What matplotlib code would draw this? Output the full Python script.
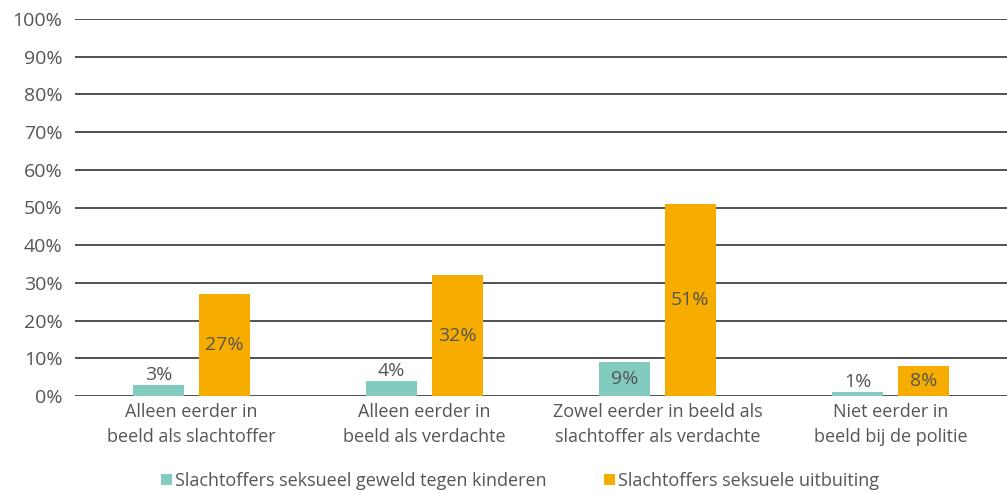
import matplotlib
matplotlib.use("Agg")
from matplotlib import pyplot as plt
import numpy as np

categories = ["Alleen eerder in\nbeeld als slachtoffer",
              "Alleen eerder in\nbeeld als verdachte",
              "Zowel eerder in beeld als\nslachtoffer als verdachte",
              "Niet eerder in\nbeeld bij de politie"]
kinderen = [3, 4, 9, 1]
uitbuiting = [27, 32, 51, 8]
series_names = ["Slachtoffers seksueel geweld tegen kinderen",
                "Slachtoffers seksuele uitbuiting"]
yticks = list(range(0, 101, 10))

plt.rcParams['font.family'] = ['Open Sans', 'DejaVu Sans']
grey = '#555555'

fig = plt.figure(figsize=(10.07, 4.93), dpi=100)
ax = fig.add_axes([75/1007, 1 - 396/493, 932/1007, 377/493])

x = np.arange(len(categories))
w = 0.223
off = 0.1416
b1 = ax.bar(x - off, kinderen, w, color='#84cbbf', label=series_names[0], zorder=3)
b2 = ax.bar(x + off, uitbuiting, w, color='#f7ad00', label=series_names[1], zorder=3)

for bars, vals in [(b1, kinderen), (b2, uitbuiting)]:
    for rect, v in zip(bars, vals):
        cx = rect.get_x() + rect.get_width() / 2
        if v >= 5:
            ax.text(cx, v / 2, f"{v}%", ha='center', va='center', fontsize=14, color=grey, zorder=4)
        else:
            ax.text(cx, v + 0.3, f"{v}%", ha='center', va='bottom', fontsize=14, color=grey, zorder=4)

ax.set_xlim(-0.5, len(categories) - 0.5)
ax.set_ylim(0, 100)
ax.set_yticks(yticks)
ax.set_yticklabels([f"{t}%" for t in yticks], fontsize=14, color=grey)
ax.set_xticks(x)
ax.set_xticklabels(categories, fontsize=13, color=grey, linespacing=1.5)
ax.tick_params(length=0, axis='y', pad=9)
ax.tick_params(length=0, axis='x', pad=5)
ax.yaxis.grid(True, color='#333333', linewidth=1.2, zorder=0)
for s in ax.spines.values():
    s.set_visible(False)
ax.set_axisbelow(True)

fig.legend(handles=[b1, b2], labels=series_names, loc='center', bbox_to_anchor=(520/1007, 1 - 481/493),
           ncol=2, frameon=False, fontsize=13, labelcolor=grey, handlelength=0.6, handleheight=0.6,
           handletextpad=0.15, columnspacing=3.2)

fig.savefig("out.png", dpi=100)
